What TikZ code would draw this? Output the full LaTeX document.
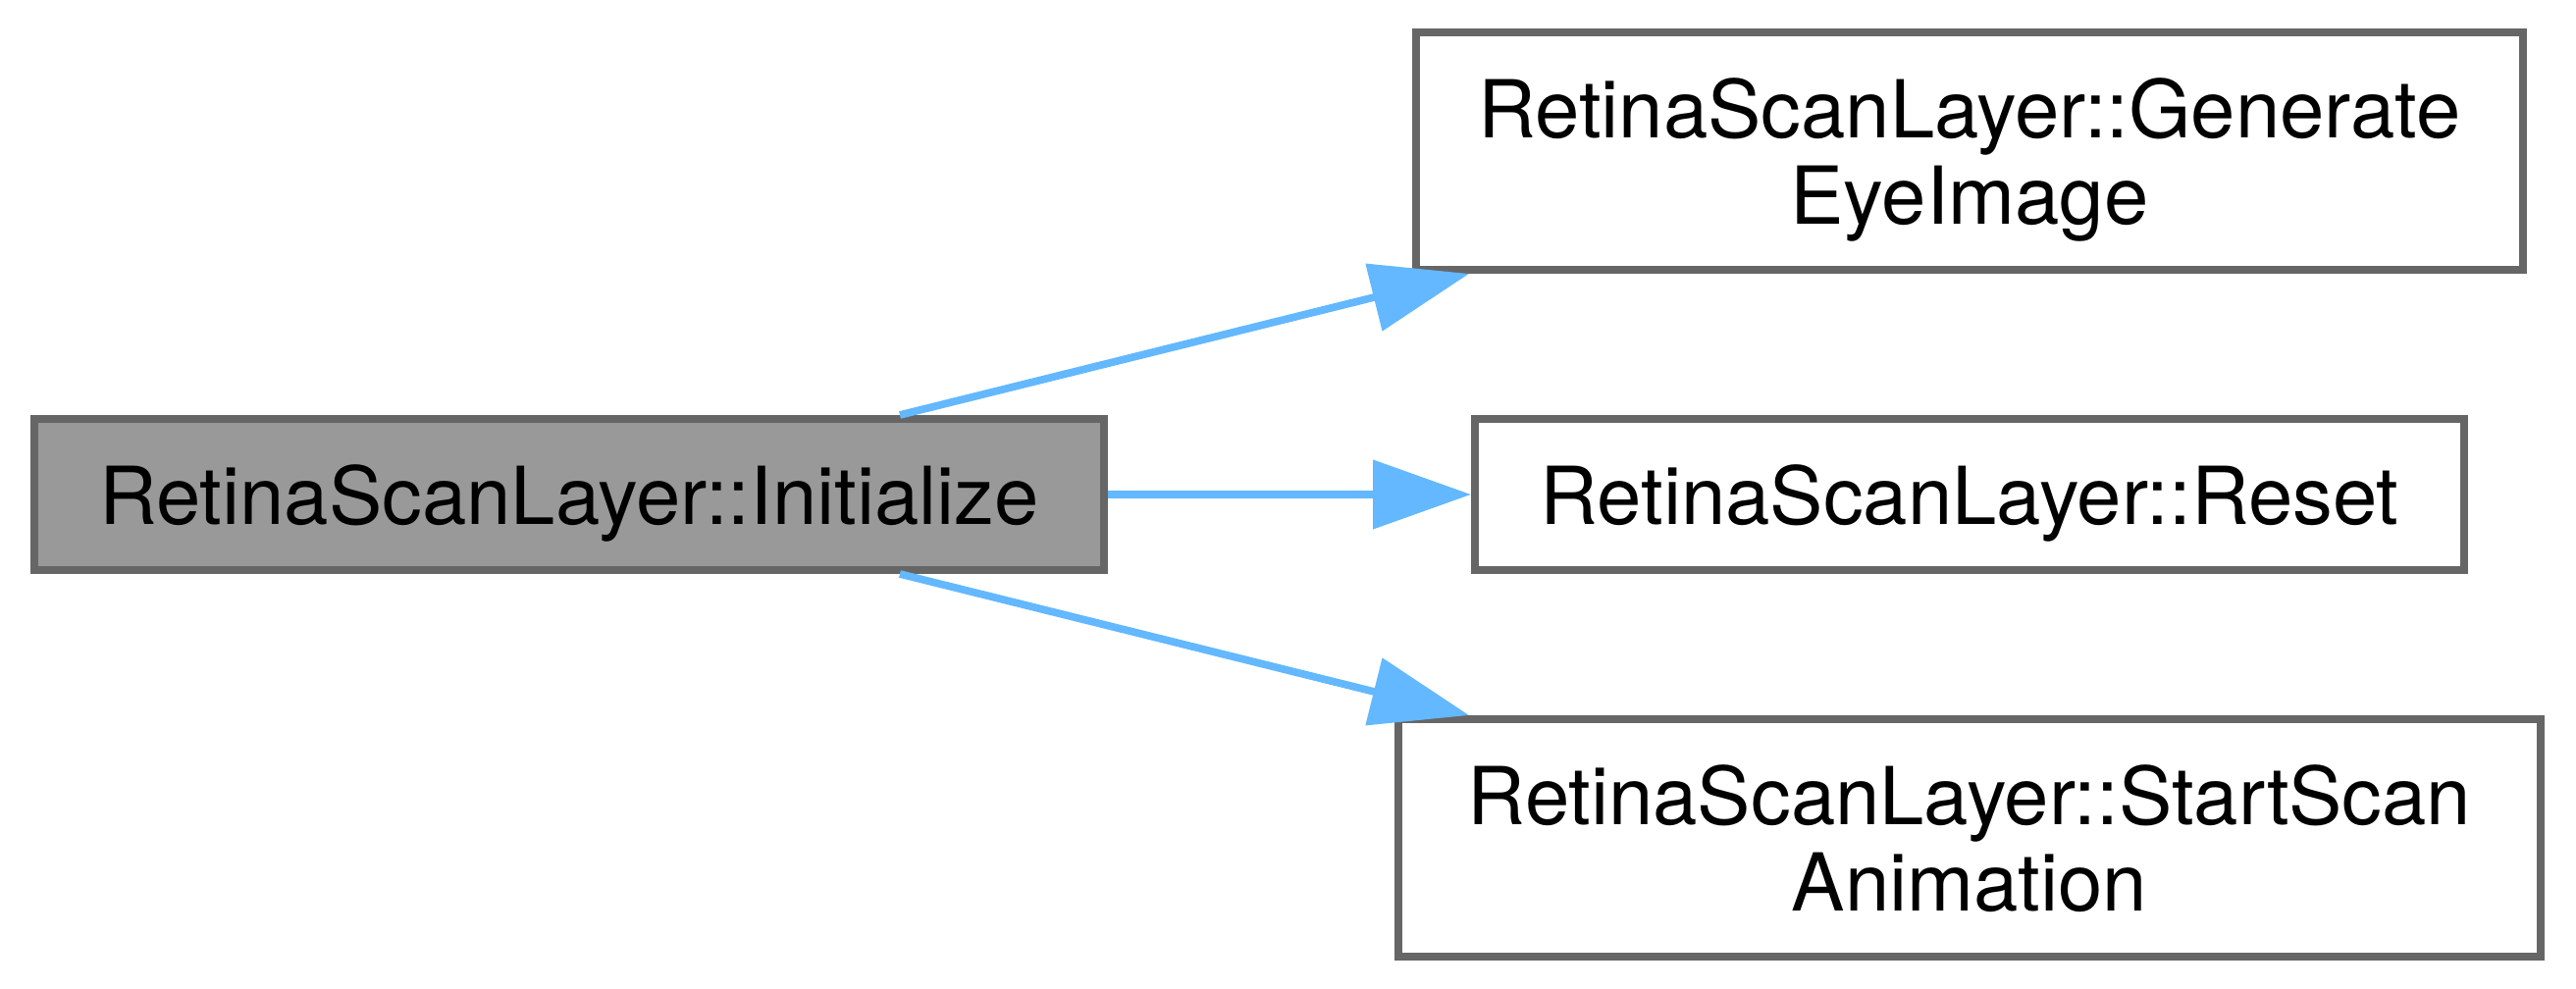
\documentclass[tikz,border=0pt]{standalone}
\usepackage{fontspec}
\setmainfont{TeX Gyre Heros}
\usetikzlibrary{arrows.meta,calc}

\definecolor{boxline}{HTML}{666666}
\definecolor{boxgrey}{HTML}{999999}
\definecolor{callblue}{HTML}{63B8FF}

\tikzset{every picture/.style={line width=1.6pt},
  fn/.style={draw=boxline,fill=white,inner sep=0pt,align=center,text depth=0pt,
    font=\fontsize{16.3}{17.6}\selectfont},
  call/.style={draw=callblue,line width=1.54pt,
    -{Triangle[length=20pt,width=13.8pt,fill=callblue]}}}

\begin{document}
\begin{tikzpicture}[x=0.2pt,y=0.2pt,yscale=-1]
\useasboundingbox (0,0) rectangle (2625,1008);

% Caller
\node (init) [fn,fill=boxgrey,minimum width=218pt,minimum height=30.8pt] at (580,504) {RetinaScanLayer::Initialize};
% Callees
\node (gen) [fn,minimum width=225.6pt,minimum height=48.4pt] at (2007,154) {RetinaScanLayer::Generate\\EyeImage};
\node (reset) [fn,minimum width=201.6pt,minimum height=30.8pt] at (2007,504) {RetinaScanLayer::Reset};
\node (scan) [fn,minimum width=232.8pt,minimum height=48.4pt] at (2007,854) {RetinaScanLayer::StartScan\\Animation};

% Calls
\draw [call] ($(init.north)+(337,0)$) -- ($(gen.south)+(-510,0)$);
\draw [call] (init.east) -- (reset.west);
\draw [call] ($(init.south)+(337,0)$) -- ($(scan.north)+(-510,0)$);

\end{tikzpicture}
\end{document}
